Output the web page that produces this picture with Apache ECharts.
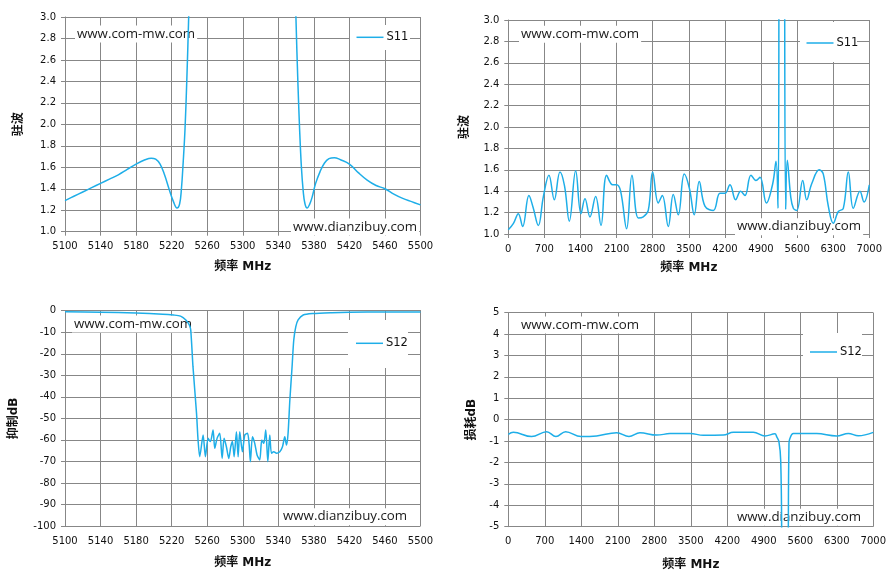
<!DOCTYPE html>
<html>
<head>
<meta charset="utf-8">
<script src="https://cdn.jsdelivr.net/npm/echarts@6/dist/echarts.min.js"></script>
<style>
html, body { margin: 0; padding: 0; background: #fff; }
#chart { width: 896px; height: 580px; }
</style>
</head>
<body>
<div id="chart"></div>
<script>
// S11 VSWR, 5100-5500 MHz
var bandFreq = [5100, 5110, 5120, 5130, 5140, 5150, 5160, 5170, 5180, 5190, 5197, 5202, 5207, 5212, 5217, 5222, 5226, 5229, 5231, 5233, 5235, 5237, 5239, 5241, 5250, 5300, 5350, 5358, 5360, 5362, 5364, 5366, 5368, 5370, 5372.5, 5375, 5378, 5382, 5387, 5392, 5397, 5403, 5410, 5420, 5430, 5440, 5450, 5460, 5470, 5480, 5490, 5500];
var bandS11 = [1.29, 1.33, 1.37, 1.41, 1.45, 1.49, 1.53, 1.58, 1.63, 1.67, 1.685, 1.675, 1.63, 1.53, 1.40, 1.28, 1.22, 1.26, 1.40, 1.65, 1.95, 2.4, 2.95, 3.6, 8, 20, 8, 3.6, 2.95, 2.4, 1.95, 1.6, 1.38, 1.26, 1.22, 1.25, 1.32, 1.45, 1.56, 1.64, 1.68, 1.69, 1.67, 1.63, 1.55, 1.48, 1.43, 1.40, 1.35, 1.31, 1.28, 1.25];

// S11 VSWR, 0-7000 MHz
var wideFreq = [0, 100, 194, 278, 400, 480, 582, 680, 788, 892, 1002, 1090, 1183, 1306, 1409, 1487, 1583, 1693, 1797, 1907, 2023, 2100, 2178, 2294, 2398, 2520, 2617, 2714, 2799, 2908, 2986, 3102, 3199, 3296, 3412, 3510, 3606, 3703, 3813, 3975, 4104, 4201, 4298, 4408, 4505, 4589, 4705, 4802, 4881, 5005, 5127, 5191, 5230, 5248, 5260, 5340, 5358, 5379, 5410, 5476, 5527, 5592, 5709, 5786, 5883, 6031, 6108, 6205, 6302, 6399, 6496, 6593, 6690, 6819, 6897, 7000];
var wideS11 = [1.04, 1.10, 1.19, 1.07, 1.36, 1.25, 1.08, 1.35, 1.55, 1.32, 1.58, 1.45, 1.12, 1.59, 1.19, 1.33, 1.16, 1.35, 1.08, 1.55, 1.46, 1.46, 1.40, 1.05, 1.55, 1.15, 1.16, 1.22, 1.58, 1.29, 1.36, 1.07, 1.37, 1.18, 1.56, 1.43, 1.18, 1.49, 1.26, 1.22, 1.38, 1.38, 1.46, 1.32, 1.40, 1.36, 1.55, 1.50, 1.53, 1.29, 1.47, 1.68, 1.24, 3.5, 10, 10, 3.5, 1.23, 1.69, 1.35, 1.24, 1.22, 1.50, 1.32, 1.47, 1.60, 1.56, 1.26, 1.10, 1.21, 1.24, 1.58, 1.24, 1.40, 1.30, 1.46];

// S12 rejection dB, 5100-5500 MHz
var rejFreq = [5100, 5140, 5180, 5210, 5222, 5230, 5236, 5240, 5241.5, 5244, 5248, 5249.7, 5251.6, 5255.4, 5258, 5261, 5263.6, 5266.6, 5268.5, 5271.1, 5274.1, 5276.8, 5279, 5281.6, 5284.3, 5286.5, 5288.4, 5290.3, 5292.9, 5294.8, 5296.6, 5299.6, 5302.3, 5305.3, 5307.1, 5308.6, 5310.9, 5313.5, 5316.1, 5319.1, 5321.4, 5323.7, 5325.9, 5328.2, 5330.4, 5332.3, 5334.9, 5337.9, 5341.7, 5344.7, 5347.3, 5349.2, 5351, 5353, 5355.5, 5357.4, 5359.7, 5362.3, 5368, 5379, 5400, 5420, 5460, 5500];
var rejS12 = [-0.46, -0.7, -1.1, -1.6, -2.0, -2.5, -4.3, -6.7, -9, -26, -47.7, -60, -67.8, -57.7, -67.8, -59.3, -60.8, -55.4, -63.9, -59.3, -56.9, -68.6, -59.3, -63.2, -68.6, -63.2, -60.8, -67.8, -56.2, -67.8, -56.2, -65.5, -57.7, -56.9, -61.6, -70.1, -58.5, -61.6, -67.0, -69.3, -60.1, -61.6, -55.4, -70.1, -57.7, -66.2, -65.5, -66.2, -65.5, -63.2, -58.5, -62.4, -56.9, -41.5, -26, -13.6, -7.4, -4.3, -2.0, -1.3, -0.9, -0.7, -0.6, -0.55];

// S12 loss dB, 0-7000 MHz
var lossFreq = [0, 96, 447, 735, 914, 1100, 1394, 1694, 2078, 2314, 2525, 2845, 3101, 3484, 3740, 4123, 4315, 4699, 4923, 5114, 5147, 5190, 5224, 5243, 5260, 5350, 5370, 5383, 5402, 5466, 5914, 6297, 6521, 6713, 7000];
var lossS12 = [-0.69, -0.59, -0.79, -0.56, -0.79, -0.56, -0.79, -0.76, -0.61, -0.79, -0.61, -0.72, -0.65, -0.64, -0.73, -0.72, -0.59, -0.59, -0.76, -0.66, -0.79, -1.03, -1.9, -5.5, -20, -20, -5.5, -1.1, -0.87, -0.64, -0.65, -0.76, -0.64, -0.75, -0.59];

var lineColor = '#1eaee8';
var gridColor = '#878787';
var tickFont = 'DejaVu Sans';
var cjkFont = 'DejaVu Sans, Noto Sans CJK SC';

function pairs(xs, ys, offset) {
    return xs.map(function (x, i) { return [x - (offset || 0), ys[i]]; });
}

function xAxis(idx, max, interval, labelFn, gap) {
    return {
        gridIndex: idx, type: 'value', min: 0, max: max, interval: interval,
        axisLine: { show: true, lineStyle: { color: gridColor } },
        axisTick: { show: true, length: 4, lineStyle: { color: gridColor } },
        splitLine: { show: true, lineStyle: { color: gridColor, width: 1 } },
        axisLabel: { color: '#111', fontFamily: tickFont, fontSize: 10, margin: 10, formatter: labelFn },
        name: '频率 MHz', nameLocation: 'middle', nameGap: gap,
        nameTextStyle: { color: '#111', fontFamily: cjkFont, fontSize: 12, fontWeight: 'bold' }
    };
}

function yAxis(idx, min, max, interval, name, gap, digits) {
    return {
        gridIndex: idx, type: 'value', min: min, max: max, interval: interval,
        axisLine: { show: true, lineStyle: { color: gridColor } },
        axisTick: { show: true, length: 4, lineStyle: { color: gridColor } },
        splitLine: { show: true, lineStyle: { color: gridColor, width: 1 } },
        axisLabel: {
            color: '#111', fontFamily: tickFont, fontSize: 10, margin: 9,
            formatter: function (v) { return v.toFixed(digits); }
        },
        name: name, nameLocation: 'middle', nameGap: gap,
        nameTextStyle: { color: '#111', fontFamily: cjkFont, fontSize: 12, fontWeight: 'bold' }
    };
}

function line(idx, name, data, smooth) {
    return {
        type: 'line', name: name, xAxisIndex: idx, yAxisIndex: idx,
        data: data, symbol: 'none', smooth: smooth,
        lineStyle: { color: lineColor, width: 1.5 }, itemStyle: { color: lineColor },
        animation: false
    };
}

function legend(name, left, cy) {
    return {
        data: [name], left: left, top: cy - 7, padding: 0, itemWidth: 27, itemHeight: 1.5, itemGap: 0,
        icon: 'rect', selectedMode: false,
        textStyle: { color: '#111', fontFamily: tickFont, fontSize: 11.5, padding: [0, 0, 0, -2] }
    };
}

function box(x, y, w, h) {
    return { type: 'rect', z: 1, shape: { x: x, y: y, width: w, height: h }, style: { fill: '#fff' } };
}

function mark(text, x, cy) {
    return {
        type: 'text', z: 1, x: x, y: cy,
        style: {
            text: text, fill: '#1a1a1a', font: '13.3px "Open Sans"', verticalAlign: 'middle',
            backgroundColor: '#fff', padding: [2, 2]
        }
    };
}

var bandLabel = function (v) { return String(v + 5100); };
var plainLabel = function (v) { return String(v); };

var option = {
    backgroundColor: '#fff',
    animation: false,
    grid: [
        { left: 65, top: 17, width: 355.5, height: 214.7 },
        { left: 508.3, top: 20, width: 361, height: 214 },
        { left: 65, top: 310.7, width: 355.5, height: 215.3 },
        { left: 508.3, top: 312.7, width: 365, height: 214 }
    ],
    xAxis: [
        xAxis(0, 400, 40, bandLabel, 29),
        xAxis(1, 7000, 700, plainLabel, 28),
        xAxis(2, 400, 40, bandLabel, 31),
        xAxis(3, 7000, 700, plainLabel, 32)
    ],
    yAxis: [
        yAxis(0, 1, 3, 0.2, '驻波', 40, 1),
        yAxis(1, 1, 3, 0.2, '驻波', 37, 1),
        yAxis(2, -100, 0, 10, '抑制dB', 45, 0),
        yAxis(3, -5, 5, 1, '损耗dB', 30, 0)
    ],
    legend: [
        legend('S11', 356.5, 38.3),
        legend('S11', 806.5, 44),
        legend('S12', 356, 344.3),
        legend('S12', 810, 353)
    ],
    graphic: [
        box(350, 25, 60, 25),
        box(800, 22, 57, 40),
        box(348, 320, 60, 48),
        box(803, 333, 59, 44),
        mark('www.com-mw.com', 75, 34),
        mark('www.dianzibuy.com', 291, 227),
        mark('www.com-mw.com', 519, 34.3),
        mark('www.dianzibuy.com', 735, 226.7),
        mark('www.com-mw.com', 72, 324),
        mark('www.dianzibuy.com', 281, 516.7),
        mark('www.com-mw.com', 519, 325),
        mark('www.dianzibuy.com', 735, 517.3)
    ],
    series: [
        line(0, 'S11', pairs(bandFreq, bandS11, 5100), 0.4),
        line(1, 'S11', pairs(wideFreq, wideS11, 0), 0.4),
        line(2, 'S12', pairs(rejFreq, rejS12, 5100), 0.25),
        line(3, 'S12', pairs(lossFreq, lossS12, 0), 0.4)
    ]
};

var myChart = echarts.init(document.getElementById('chart'));
myChart.setOption(option);
window.addEventListener('resize', function () {
    myChart.resize();
});
</script>
</body>
</html>
